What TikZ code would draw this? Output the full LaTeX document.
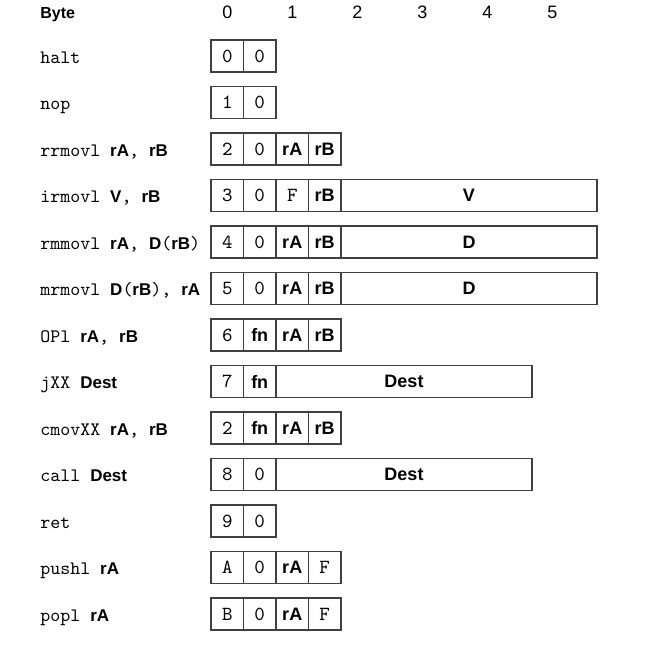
\documentclass[tikz,border=0pt]{standalone}
\usepackage{fontspec}
\setsansfont{Liberation Sans}
\usepackage{tikz}
\usetikzlibrary{positioning}
\tikzstyle{nib} = [draw=black!75, line width=0.7pt, outer sep=0pt, inner sep=0pt, minimum width=16.25pt, minimum height=16pt, font=\ttfamily]
\tikzstyle{reg} = [nib, font=\sffamily\bfseries\small]
\tikzstyle{wide} = [reg, minimum width=128pt]
\tikzstyle{instr} = [anchor=west, inner sep=0pt, text height=7pt, text depth=0pt, font=\ttfamily\fontsize{9.5}{11}\selectfont]
\tikzstyle{byte} = [anchor=base, inner sep=0pt, font=\sffamily\small]
\newcommand{\opd}[1]{{\sffamily\bfseries\fontsize{8.5}{10}\selectfont #1}}

\begin{document}
\begin{tikzpicture}[x=0.5pt, y=-0.5pt]
\useasboundingbox (0,0) rectangle (666,666);
% header
\node[byte, anchor=base west, font=\sffamily\bfseries\footnotesize] (byte) at (40,18) {Byte};
\node[byte] (b0) at (227.5,18) {0};
\node[byte] (b1) at (292.5,18) {1};
\node[byte] (b2) at (357.5,18) {2};
\node[byte] (b3) at (422.5,18) {3};
\node[byte] (b4) at (487.5,18) {4};
\node[byte] (b5) at (552.5,18) {5};
% halt
\node[instr] (halt) at (40,56) {halt};
\node[nib, anchor=west] (halt0) at (211,56) {0};
\node[nib, right=0pt of halt0] (halt1) {0};
% nop
\node[instr] (nop) at (40,102.5) {nop};
\node[nib, anchor=west] (nop0) at (211,102.5) {1};
\node[nib, right=0pt of nop0] (nop1) {0};
% rrmovl
\node[instr] (rrmovl) at (40,149) {rrmovl \opd{rA}, \opd{rB}};
\node[nib, anchor=west] (rrmovl0) at (211,149) {2};
\node[nib, right=0pt of rrmovl0] (rrmovl1) {0};
\node[reg, right=0pt of rrmovl1] (rrmovl2) {rA};
\node[reg, right=0pt of rrmovl2] (rrmovl3) {rB};
% irmovl
\node[instr] (irmovl) at (40,195.5) {irmovl \opd{V}, \opd{rB}};
\node[nib, anchor=west] (irmovl0) at (211,195.5) {3};
\node[nib, right=0pt of irmovl0] (irmovl1) {0};
\node[nib, right=0pt of irmovl1] (irmovl2) {F};
\node[reg, right=0pt of irmovl2] (irmovl3) {rB};
\node[wide, right=0pt of irmovl3] (irmovl4) {V};
% rmmovl
\node[instr] (rmmovl) at (40,242) {rmmovl \opd{rA}, \opd{D}(\opd{rB})};
\node[nib, anchor=west] (rmmovl0) at (211,242) {4};
\node[nib, right=0pt of rmmovl0] (rmmovl1) {0};
\node[reg, right=0pt of rmmovl1] (rmmovl2) {rA};
\node[reg, right=0pt of rmmovl2] (rmmovl3) {rB};
\node[wide, right=0pt of rmmovl3] (rmmovl4) {D};
% mrmovl
\node[instr] (mrmovl) at (40,288.5) {mrmovl \opd{D}(\opd{rB}), \opd{rA}};
\node[nib, anchor=west] (mrmovl0) at (211,288.5) {5};
\node[nib, right=0pt of mrmovl0] (mrmovl1) {0};
\node[reg, right=0pt of mrmovl1] (mrmovl2) {rA};
\node[reg, right=0pt of mrmovl2] (mrmovl3) {rB};
\node[wide, right=0pt of mrmovl3] (mrmovl4) {D};
% OPl
\node[instr] (opl) at (40,335) {OPl \opd{rA}, \opd{rB}};
\node[nib, anchor=west] (opl0) at (211,335) {6};
\node[reg, right=0pt of opl0] (opl1) {fn};
\node[reg, right=0pt of opl1] (opl2) {rA};
\node[reg, right=0pt of opl2] (opl3) {rB};
% jXX
\node[instr] (jxx) at (40,381.5) {jXX \opd{Dest}};
\node[nib, anchor=west] (jxx0) at (211,381.5) {7};
\node[reg, right=0pt of jxx0] (jxx1) {fn};
\node[wide, right=0pt of jxx1] (jxx2) {Dest};
% cmovXX
\node[instr] (cmovxx) at (40,428) {cmovXX \opd{rA}, \opd{rB}};
\node[nib, anchor=west] (cmovxx0) at (211,428) {2};
\node[reg, right=0pt of cmovxx0] (cmovxx1) {fn};
\node[reg, right=0pt of cmovxx1] (cmovxx2) {rA};
\node[reg, right=0pt of cmovxx2] (cmovxx3) {rB};
% call
\node[instr] (call) at (40,474.5) {call \opd{Dest}};
\node[nib, anchor=west] (call0) at (211,474.5) {8};
\node[nib, right=0pt of call0] (call1) {0};
\node[wide, right=0pt of call1] (call2) {Dest};
% ret
\node[instr] (ret) at (40,521) {ret};
\node[nib, anchor=west] (ret0) at (211,521) {9};
\node[nib, right=0pt of ret0] (ret1) {0};
% pushl
\node[instr] (pushl) at (40,567.5) {pushl \opd{rA}};
\node[nib, anchor=west] (pushl0) at (211,567.5) {A};
\node[nib, right=0pt of pushl0] (pushl1) {0};
\node[reg, right=0pt of pushl1] (pushl2) {rA};
\node[nib, right=0pt of pushl2] (pushl3) {F};
% popl
\node[instr] (popl) at (40,614) {popl \opd{rA}};
\node[nib, anchor=west] (popl0) at (211,614) {B};
\node[nib, right=0pt of popl0] (popl1) {0};
\node[reg, right=0pt of popl1] (popl2) {rA};
\node[nib, right=0pt of popl2] (popl3) {F};
\end{tikzpicture}
\end{document}
